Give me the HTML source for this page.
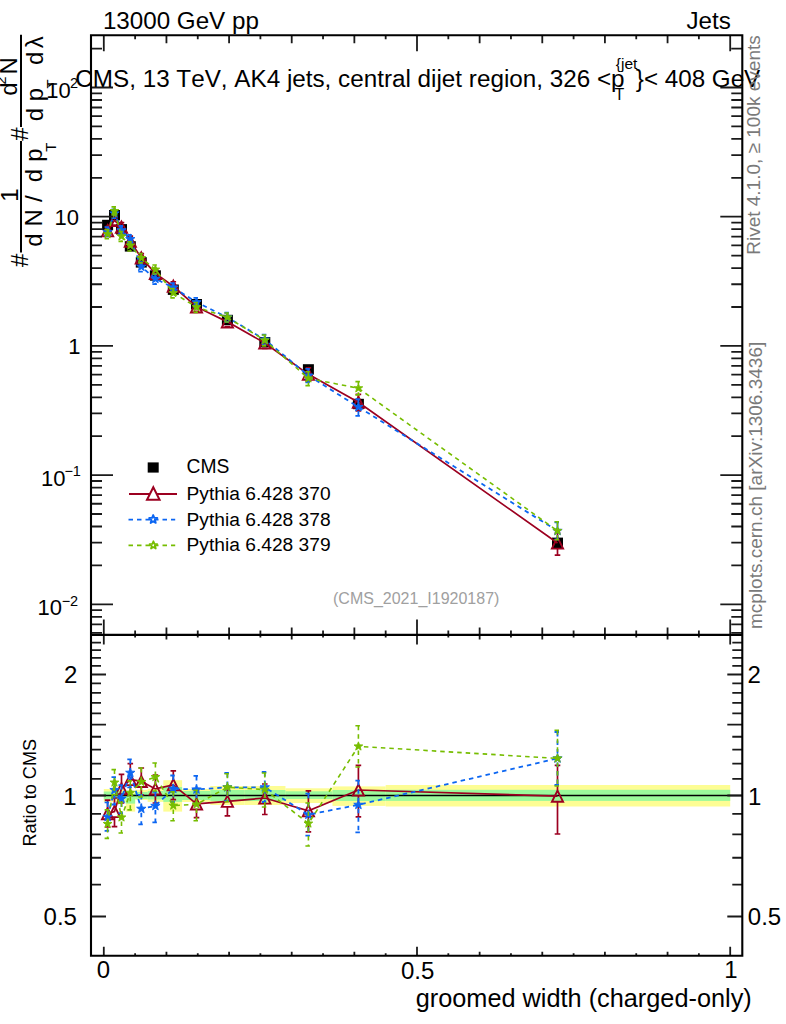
<!DOCTYPE html>
<html><head><meta charset="utf-8"><style>html,body{margin:0;padding:0;background:#fff;overflow:hidden}svg{display:block}text{font-kerning:none;font-feature-settings:"kern" 0}</style></head><body>
<svg width="786" height="1024" viewBox="0 0 786 1024" font-family="'Liberation Sans', sans-serif">
<rect width="786" height="1024" fill="#fff"/>
<defs><clipPath id="cm"><rect x="91.0" y="35.2" width="651.3" height="599.1999999999999"/></clipPath><clipPath id="cr"><rect x="91.0" y="634.4" width="651.3" height="321.4"/></clipPath></defs>
<g clip-path="url(#cr)">
<rect x="103.8" y="789" width="6.26" height="13" fill="#fdfd94"/>
<rect x="110.06" y="789" width="6.26" height="13" fill="#fdfd94"/>
<rect x="116.33" y="789" width="9.4" height="13" fill="#fdfd94"/>
<rect x="125.72" y="792" width="9.4" height="19.6" fill="#fdfd94"/>
<rect x="135.12" y="789.9" width="12.53" height="10.1" fill="#fdfd94"/>
<rect x="147.65" y="788.7" width="15.66" height="13.2" fill="#fdfd94"/>
<rect x="163.31" y="780.2" width="18.79" height="31.4" fill="#fdfd94"/>
<rect x="182.1" y="789" width="28.19" height="13" fill="#fdfd94"/>
<rect x="210.29" y="786" width="34.45" height="19" fill="#fdfd94"/>
<rect x="244.74" y="786" width="40.72" height="19" fill="#fdfd94"/>
<rect x="285.46" y="788.3" width="46.98" height="14.7" fill="#fdfd94"/>
<rect x="332.44" y="786.4" width="53.24" height="19.5" fill="#fdfd94"/>
<rect x="385.68" y="785" width="344.52" height="21.5" fill="#fdfd94"/>
<rect x="103.8" y="791.5" width="6.26" height="8" fill="#9bfa9b"/>
<rect x="110.06" y="791.5" width="6.26" height="8" fill="#9bfa9b"/>
<rect x="116.33" y="791.5" width="9.4" height="8" fill="#9bfa9b"/>
<rect x="125.72" y="793.9" width="9.4" height="9.7" fill="#9bfa9b"/>
<rect x="135.12" y="792" width="12.53" height="7" fill="#9bfa9b"/>
<rect x="147.65" y="791" width="15.66" height="8.5" fill="#9bfa9b"/>
<rect x="163.31" y="787" width="18.79" height="14.9" fill="#9bfa9b"/>
<rect x="182.1" y="791" width="28.19" height="9" fill="#9bfa9b"/>
<rect x="210.29" y="790" width="34.45" height="11" fill="#9bfa9b"/>
<rect x="244.74" y="790" width="40.72" height="11" fill="#9bfa9b"/>
<rect x="285.46" y="791.3" width="46.98" height="7.7" fill="#9bfa9b"/>
<rect x="332.44" y="790" width="53.24" height="11" fill="#9bfa9b"/>
<rect x="385.68" y="789.8" width="344.52" height="11.1" fill="#9bfa9b"/>
<line x1="91.0" y1="795.5" x2="742.3" y2="795.5" stroke="#000" stroke-width="1.6"/>
</g>
<g clip-path="url(#cr)">
<polyline points="107.6,813.6 114.5,811.5 121.5,788.7 130.3,779.5 141.3,781.4 155.4,788.9 173.3,784.8 196.5,803.9 227.4,801.3 264.8,798 308.4,810.8 358.4,790 557.5,796.2" fill="none" stroke="#9c0020" stroke-width="1.7"/>
<path d="M107.6 800.2V808M107.6 819.2V827M104.8 800.2H110.4M104.8 827H110.4" stroke="#9c0020" stroke-width="1.7" fill="none"/>
<path d="M114.5 798V805.9M114.5 817.1V826.6M111.7 798H117.3M111.7 826.6H117.3" stroke="#9c0020" stroke-width="1.7" fill="none"/>
<path d="M121.5 774.4V783.1M121.5 794.3V803M118.7 774.4H124.3M118.7 803H124.3" stroke="#9c0020" stroke-width="1.7" fill="none"/>
<path d="M130.3 763.7V773.9M130.3 785.1V795M127.5 763.7H133.1M127.5 795H133.1" stroke="#9c0020" stroke-width="1.7" fill="none"/>
<path d="M141.3 768V775.8M141.3 787V795M138.5 768H144.1M138.5 795H144.1" stroke="#9c0020" stroke-width="1.7" fill="none"/>
<path d="M155.4 775V783.3M155.4 794.5V803M152.6 775H158.2M152.6 803H158.2" stroke="#9c0020" stroke-width="1.7" fill="none"/>
<path d="M173.3 770.8V779.2M173.3 790.4V799.7M170.5 770.8H176.1M170.5 799.7H176.1" stroke="#9c0020" stroke-width="1.7" fill="none"/>
<path d="M196.5 790.3V798.3M196.5 809.5V817.7M193.7 790.3H199.3M193.7 817.7H199.3" stroke="#9c0020" stroke-width="1.7" fill="none"/>
<path d="M227.4 787.8V795.7M227.4 806.9V815.8M224.6 787.8H230.2M224.6 815.8H230.2" stroke="#9c0020" stroke-width="1.7" fill="none"/>
<path d="M264.8 784V792.4M264.8 803.6V814.5M262 784H267.6M262 814.5H267.6" stroke="#9c0020" stroke-width="1.7" fill="none"/>
<path d="M308.4 790.8V805.2M308.4 816.4V831.8M305.6 790.8H311.2M305.6 831.8H311.2" stroke="#9c0020" stroke-width="1.7" fill="none"/>
<path d="M358.4 765.3V784.4M358.4 795.6V816.8M355.6 765.3H361.2M355.6 816.8H361.2" stroke="#9c0020" stroke-width="1.7" fill="none"/>
<path d="M557.5 765.3V790.6M557.5 801.8V834M554.7 765.3H560.3M554.7 834H560.3" stroke="#9c0020" stroke-width="1.7" fill="none"/>
<polygon points="107.6,808 102,819.2 113.2,819.2" fill="none" stroke="#9c0020" stroke-width="1.9"/>
<polygon points="114.5,805.9 108.9,817.1 120.1,817.1" fill="none" stroke="#9c0020" stroke-width="1.9"/>
<polygon points="121.5,783.1 115.9,794.3 127.1,794.3" fill="none" stroke="#9c0020" stroke-width="1.9"/>
<polygon points="130.3,773.9 124.7,785.1 135.9,785.1" fill="none" stroke="#9c0020" stroke-width="1.9"/>
<polygon points="141.3,775.8 135.7,787 146.9,787" fill="none" stroke="#9c0020" stroke-width="1.9"/>
<polygon points="155.4,783.3 149.8,794.5 161,794.5" fill="none" stroke="#9c0020" stroke-width="1.9"/>
<polygon points="173.3,779.2 167.7,790.4 178.9,790.4" fill="none" stroke="#9c0020" stroke-width="1.9"/>
<polygon points="196.5,798.3 190.9,809.5 202.1,809.5" fill="none" stroke="#9c0020" stroke-width="1.9"/>
<polygon points="227.4,795.7 221.8,806.9 233,806.9" fill="none" stroke="#9c0020" stroke-width="1.9"/>
<polygon points="264.8,792.4 259.2,803.6 270.4,803.6" fill="none" stroke="#9c0020" stroke-width="1.9"/>
<polygon points="308.4,805.2 302.8,816.4 314,816.4" fill="none" stroke="#9c0020" stroke-width="1.9"/>
<polygon points="358.4,784.4 352.8,795.6 364,795.6" fill="none" stroke="#9c0020" stroke-width="1.9"/>
<polygon points="557.5,790.6 551.9,801.8 563.1,801.8" fill="none" stroke="#9c0020" stroke-width="1.9"/>
<polyline points="107.6,816.9 114.5,790 121.5,798.6 130.3,772.8 141.3,808.8 155.4,805.9 173.3,788.75 196.5,789.5 227.4,787.3 264.8,787.3 308.4,814.7 358.4,804.8 557.5,758.4" fill="none" stroke="#0c66f2" stroke-width="1.8" stroke-dasharray="4.5 4"/>
<path d="M107.6 802.4V812.9M107.6 820.9V830.9M104.6 802.4H110.6M104.6 830.9H110.6" stroke="#0c66f2" stroke-width="1.8" fill="none" stroke-dasharray="4.5 4"/>
<path d="M114.5 777.1V786M114.5 794V804.5M111.5 777.1H117.5M111.5 804.5H117.5" stroke="#0c66f2" stroke-width="1.8" fill="none" stroke-dasharray="4.5 4"/>
<path d="M121.5 785.2V794.6M121.5 802.6V813.1M118.5 785.2H124.5M118.5 813.1H124.5" stroke="#0c66f2" stroke-width="1.8" fill="none" stroke-dasharray="4.5 4"/>
<path d="M130.3 759.4V768.8M130.3 776.8V787.3M127.3 759.4H133.3M127.3 787.3H133.3" stroke="#0c66f2" stroke-width="1.8" fill="none" stroke-dasharray="4.5 4"/>
<path d="M141.3 795V804.8M141.3 812.8V824.4M138.3 795H144.3M138.3 824.4H144.3" stroke="#0c66f2" stroke-width="1.8" fill="none" stroke-dasharray="4.5 4"/>
<path d="M155.4 791.9V801.9M155.4 809.9V822.3M152.4 791.9H158.4M152.4 822.3H158.4" stroke="#0c66f2" stroke-width="1.8" fill="none" stroke-dasharray="4.5 4"/>
<path d="M173.3 775.5V784.75M173.3 792.75V802M170.3 775.5H176.3M170.3 802H176.3" stroke="#0c66f2" stroke-width="1.8" fill="none" stroke-dasharray="4.5 4"/>
<path d="M196.5 775.9V785.5M196.5 793.5V803.6M193.5 775.9H199.5M193.5 803.6H199.5" stroke="#0c66f2" stroke-width="1.8" fill="none" stroke-dasharray="4.5 4"/>
<path d="M227.4 773V783.3M227.4 791.3V801M224.4 773H230.4M224.4 801H230.4" stroke="#0c66f2" stroke-width="1.8" fill="none" stroke-dasharray="4.5 4"/>
<path d="M264.8 772V783.3M264.8 791.3V802M261.8 772H267.8M261.8 802H267.8" stroke="#0c66f2" stroke-width="1.8" fill="none" stroke-dasharray="4.5 4"/>
<path d="M308.4 793.7V810.7M308.4 818.7V835.7M305.4 793.7H311.4M305.4 835.7H311.4" stroke="#0c66f2" stroke-width="1.8" fill="none" stroke-dasharray="4.5 4"/>
<path d="M358.4 780.7V800.8M358.4 808.8V832.3M355.4 780.7H361.4M355.4 832.3H361.4" stroke="#0c66f2" stroke-width="1.8" fill="none" stroke-dasharray="4.5 4"/>
<path d="M557.5 732V754.4M557.5 762.4V785M554.5 732H560.5M554.5 785H560.5" stroke="#0c66f2" stroke-width="1.8" fill="none" stroke-dasharray="4.5 4"/>
<polygon points="107.6,812 108.81,815.24 112.26,815.39 109.56,817.54 110.48,820.86 107.6,818.96 104.72,820.86 105.64,817.54 102.94,815.39 106.39,815.24" fill="#0c66f2" stroke="#0c66f2" stroke-width="0.9" stroke-linejoin="round"/>
<polygon points="114.5,785.1 115.71,788.34 119.16,788.49 116.46,790.64 117.38,793.96 114.5,792.06 111.62,793.96 112.54,790.64 109.84,788.49 113.29,788.34" fill="#0c66f2" stroke="#0c66f2" stroke-width="0.9" stroke-linejoin="round"/>
<polygon points="121.5,793.7 122.71,796.94 126.16,797.09 123.46,799.24 124.38,802.56 121.5,800.66 118.62,802.56 119.54,799.24 116.84,797.09 120.29,796.94" fill="#0c66f2" stroke="#0c66f2" stroke-width="0.9" stroke-linejoin="round"/>
<polygon points="130.3,767.9 131.51,771.14 134.96,771.29 132.26,773.44 133.18,776.76 130.3,774.86 127.42,776.76 128.34,773.44 125.64,771.29 129.09,771.14" fill="#0c66f2" stroke="#0c66f2" stroke-width="0.9" stroke-linejoin="round"/>
<polygon points="141.3,803.9 142.51,807.14 145.96,807.29 143.26,809.44 144.18,812.76 141.3,810.86 138.42,812.76 139.34,809.44 136.64,807.29 140.09,807.14" fill="#0c66f2" stroke="#0c66f2" stroke-width="0.9" stroke-linejoin="round"/>
<polygon points="155.4,801 156.61,804.24 160.06,804.39 157.36,806.54 158.28,809.86 155.4,807.96 152.52,809.86 153.44,806.54 150.74,804.39 154.19,804.24" fill="#0c66f2" stroke="#0c66f2" stroke-width="0.9" stroke-linejoin="round"/>
<polygon points="173.3,783.85 174.51,787.09 177.96,787.24 175.26,789.39 176.18,792.71 173.3,790.81 170.42,792.71 171.34,789.39 168.64,787.24 172.09,787.09" fill="#0c66f2" stroke="#0c66f2" stroke-width="0.9" stroke-linejoin="round"/>
<polygon points="196.5,784.6 197.71,787.84 201.16,787.99 198.46,790.14 199.38,793.46 196.5,791.56 193.62,793.46 194.54,790.14 191.84,787.99 195.29,787.84" fill="#0c66f2" stroke="#0c66f2" stroke-width="0.9" stroke-linejoin="round"/>
<polygon points="227.4,782.4 228.61,785.64 232.06,785.79 229.36,787.94 230.28,791.26 227.4,789.36 224.52,791.26 225.44,787.94 222.74,785.79 226.19,785.64" fill="#0c66f2" stroke="#0c66f2" stroke-width="0.9" stroke-linejoin="round"/>
<polygon points="264.8,782.4 266.01,785.64 269.46,785.79 266.76,787.94 267.68,791.26 264.8,789.36 261.92,791.26 262.84,787.94 260.14,785.79 263.59,785.64" fill="#0c66f2" stroke="#0c66f2" stroke-width="0.9" stroke-linejoin="round"/>
<polygon points="308.4,809.8 309.61,813.04 313.06,813.19 310.36,815.34 311.28,818.66 308.4,816.76 305.52,818.66 306.44,815.34 303.74,813.19 307.19,813.04" fill="#0c66f2" stroke="#0c66f2" stroke-width="0.9" stroke-linejoin="round"/>
<polygon points="358.4,799.9 359.61,803.14 363.06,803.29 360.36,805.44 361.28,808.76 358.4,806.86 355.52,808.76 356.44,805.44 353.74,803.29 357.19,803.14" fill="#0c66f2" stroke="#0c66f2" stroke-width="0.9" stroke-linejoin="round"/>
<polygon points="557.5,753.5 558.71,756.74 562.16,756.89 559.46,759.04 560.38,762.36 557.5,760.46 554.62,762.36 555.54,759.04 552.84,756.89 556.29,756.74" fill="#0c66f2" stroke="#0c66f2" stroke-width="0.9" stroke-linejoin="round"/>
<polyline points="107.6,823.9 114.5,782.5 121.5,817.4 130.3,792.7 141.3,781.9 155.4,777 173.3,805.6 196.5,804.4 227.4,787.3 264.8,789.6 308.4,823.5 358.4,746.4 557.5,758.4" fill="none" stroke="#76bd00" stroke-width="1.6" stroke-dasharray="4.5 4"/>
<path d="M107.6 809.9V819.9M107.6 827.9V838.4M104.6 809.9H110.6M104.6 838.4H110.6" stroke="#76bd00" stroke-width="1.6" fill="none" stroke-dasharray="4.5 4"/>
<path d="M114.5 769.6V778.5M114.5 786.5V794.8M111.5 769.6H117.5M111.5 794.8H117.5" stroke="#76bd00" stroke-width="1.6" fill="none" stroke-dasharray="4.5 4"/>
<path d="M121.5 802.4V813.4M121.5 821.4V833M118.5 802.4H124.5M118.5 833H124.5" stroke="#76bd00" stroke-width="1.6" fill="none" stroke-dasharray="4.5 4"/>
<path d="M130.3 780.9V788.7M130.3 796.7V809.9M127.3 780.9H133.3M127.3 809.9H133.3" stroke="#76bd00" stroke-width="1.6" fill="none" stroke-dasharray="4.5 4"/>
<path d="M141.3 768V777.9M141.3 785.9V797M138.3 768H144.3M138.3 797H144.3" stroke="#76bd00" stroke-width="1.6" fill="none" stroke-dasharray="4.5 4"/>
<path d="M155.4 763V773M155.4 781V791M152.4 763H158.4M152.4 791H158.4" stroke="#76bd00" stroke-width="1.6" fill="none" stroke-dasharray="4.5 4"/>
<path d="M173.3 791.9V801.6M173.3 809.6V820.8M170.3 791.9H176.3M170.3 820.8H176.3" stroke="#76bd00" stroke-width="1.6" fill="none" stroke-dasharray="4.5 4"/>
<path d="M196.5 790.3V800.4M196.5 808.4V820.8M193.5 790.3H199.5M193.5 820.8H199.5" stroke="#76bd00" stroke-width="1.6" fill="none" stroke-dasharray="4.5 4"/>
<path d="M227.4 773.8V783.3M227.4 791.3V801.8M224.4 773.8H230.4M224.4 801.8H230.4" stroke="#76bd00" stroke-width="1.6" fill="none" stroke-dasharray="4.5 4"/>
<path d="M264.8 773V785.6M264.8 793.6V807M261.8 773H267.8M261.8 807H267.8" stroke="#76bd00" stroke-width="1.6" fill="none" stroke-dasharray="4.5 4"/>
<path d="M308.4 803V819.5M308.4 827.5V846M305.4 803H311.4M305.4 846H311.4" stroke="#76bd00" stroke-width="1.6" fill="none" stroke-dasharray="4.5 4"/>
<path d="M358.4 725.8V742.4M358.4 750.4V767M355.4 725.8H361.4M355.4 767H361.4" stroke="#76bd00" stroke-width="1.6" fill="none" stroke-dasharray="4.5 4"/>
<path d="M557.5 730.2V754.4M557.5 762.4V786M554.5 730.2H560.5M554.5 786H560.5" stroke="#76bd00" stroke-width="1.6" fill="none" stroke-dasharray="4.5 4"/>
<polygon points="107.6,819.3 108.74,822.34 111.97,822.48 109.44,824.5 110.3,827.62 107.6,825.83 104.9,827.62 105.76,824.5 103.23,822.48 106.46,822.34" fill="#76bd00" stroke="#76bd00" stroke-width="0.9" stroke-linejoin="round"/>
<polygon points="114.5,777.9 115.64,780.94 118.87,781.08 116.34,783.1 117.2,786.22 114.5,784.43 111.8,786.22 112.66,783.1 110.13,781.08 113.36,780.94" fill="#76bd00" stroke="#76bd00" stroke-width="0.9" stroke-linejoin="round"/>
<polygon points="121.5,812.8 122.64,815.84 125.87,815.98 123.34,818 124.2,821.12 121.5,819.33 118.8,821.12 119.66,818 117.13,815.98 120.36,815.84" fill="#76bd00" stroke="#76bd00" stroke-width="0.9" stroke-linejoin="round"/>
<polygon points="130.3,788.1 131.44,791.14 134.67,791.28 132.14,793.3 133,796.42 130.3,794.63 127.6,796.42 128.46,793.3 125.93,791.28 129.16,791.14" fill="#76bd00" stroke="#76bd00" stroke-width="0.9" stroke-linejoin="round"/>
<polygon points="141.3,777.3 142.44,780.34 145.67,780.48 143.14,782.5 144,785.62 141.3,783.83 138.6,785.62 139.46,782.5 136.93,780.48 140.16,780.34" fill="#76bd00" stroke="#76bd00" stroke-width="0.9" stroke-linejoin="round"/>
<polygon points="155.4,772.4 156.54,775.44 159.77,775.58 157.24,777.6 158.1,780.72 155.4,778.93 152.7,780.72 153.56,777.6 151.03,775.58 154.26,775.44" fill="#76bd00" stroke="#76bd00" stroke-width="0.9" stroke-linejoin="round"/>
<polygon points="173.3,801 174.44,804.04 177.67,804.18 175.14,806.2 176,809.32 173.3,807.53 170.6,809.32 171.46,806.2 168.93,804.18 172.16,804.04" fill="#76bd00" stroke="#76bd00" stroke-width="0.9" stroke-linejoin="round"/>
<polygon points="196.5,799.8 197.64,802.84 200.87,802.98 198.34,805 199.2,808.12 196.5,806.33 193.8,808.12 194.66,805 192.13,802.98 195.36,802.84" fill="#76bd00" stroke="#76bd00" stroke-width="0.9" stroke-linejoin="round"/>
<polygon points="227.4,782.7 228.54,785.74 231.77,785.88 229.24,787.9 230.1,791.02 227.4,789.23 224.7,791.02 225.56,787.9 223.03,785.88 226.26,785.74" fill="#76bd00" stroke="#76bd00" stroke-width="0.9" stroke-linejoin="round"/>
<polygon points="264.8,785 265.94,788.04 269.17,788.18 266.64,790.2 267.5,793.32 264.8,791.53 262.1,793.32 262.96,790.2 260.43,788.18 263.66,788.04" fill="#76bd00" stroke="#76bd00" stroke-width="0.9" stroke-linejoin="round"/>
<polygon points="308.4,818.9 309.54,821.94 312.77,822.08 310.24,824.1 311.1,827.22 308.4,825.43 305.7,827.22 306.56,824.1 304.03,822.08 307.26,821.94" fill="#76bd00" stroke="#76bd00" stroke-width="0.9" stroke-linejoin="round"/>
<polygon points="358.4,741.8 359.54,744.84 362.77,744.98 360.24,747 361.1,750.12 358.4,748.33 355.7,750.12 356.56,747 354.03,744.98 357.26,744.84" fill="#76bd00" stroke="#76bd00" stroke-width="0.9" stroke-linejoin="round"/>
<polygon points="557.5,753.8 558.64,756.84 561.87,756.98 559.34,759 560.2,762.12 557.5,760.33 554.8,762.12 555.66,759 553.13,756.98 556.36,756.84" fill="#76bd00" stroke="#76bd00" stroke-width="0.9" stroke-linejoin="round"/>
</g>
<g clip-path="url(#cm)">
<rect x="102.1" y="219.8" width="11" height="10.4" fill="#000"/>
<rect x="109" y="210" width="11" height="10.4" fill="#000"/>
<rect x="116" y="224.1" width="11" height="10.4" fill="#000"/>
<rect x="124.8" y="241.2" width="11" height="10.4" fill="#000"/>
<rect x="135.8" y="257.2" width="11" height="10.4" fill="#000"/>
<rect x="149.9" y="270.3" width="11" height="10.4" fill="#000"/>
<rect x="167.8" y="284.5" width="11" height="10.4" fill="#000"/>
<rect x="191" y="299" width="11" height="10.4" fill="#000"/>
<rect x="221.9" y="314.8" width="11" height="10.4" fill="#000"/>
<rect x="259.3" y="337" width="11" height="10.4" fill="#000"/>
<rect x="302.9" y="364.2" width="11" height="10.4" fill="#000"/>
<rect x="352.9" y="398.8" width="11" height="10.4" fill="#000"/>
<rect x="552" y="537.6" width="11" height="10.4" fill="#000"/>
<polyline points="107.6,230.82 114.5,220.34 121.5,227.11 130.3,241.26 141.3,257.87 155.4,273.38 173.3,286.26 196.5,306.9 227.4,321.86 264.8,343 308.4,374.32 358.4,402.23 557.5,543.02" fill="none" stroke="#9c0020" stroke-width="1.7"/>
<path d="M104.8 226.51H110.4M104.8 235.12H110.4" stroke="#9c0020" stroke-width="1.7" fill="none"/>
<path d="M111.7 216H117.3M111.7 225.2H117.3" stroke="#9c0020" stroke-width="1.7" fill="none"/>
<path d="M118.7 222.52H124.3M118.7 231.71H124.3" stroke="#9c0020" stroke-width="1.7" fill="none"/>
<path d="M127.5 236.18H133.1M127.5 246.24H133.1" stroke="#9c0020" stroke-width="1.7" fill="none"/>
<path d="M138.5 253.56H144.1M138.5 262.24H144.1" stroke="#9c0020" stroke-width="1.7" fill="none"/>
<path d="M152.6 268.91H158.2M152.6 277.91H158.2" stroke="#9c0020" stroke-width="1.7" fill="none"/>
<path d="M170.5 281.76H176.1M170.5 291.05H176.1" stroke="#9c0020" stroke-width="1.7" fill="none"/>
<path d="M193.7 302.53H199.3M193.7 311.33H199.3" stroke="#9c0020" stroke-width="1.7" fill="none"/>
<path d="M224.6 317.53H230.2M224.6 326.52H230.2" stroke="#9c0020" stroke-width="1.7" fill="none"/>
<path d="M262 338.5H267.6M262 348.31H267.6" stroke="#9c0020" stroke-width="1.7" fill="none"/>
<path d="M308.4 367.89V368.72M308.4 379.92V381.07M305.6 367.89H311.2M305.6 381.07H311.2" stroke="#9c0020" stroke-width="1.7" fill="none"/>
<path d="M358.4 394.29V396.63M358.4 407.83V410.85M355.6 394.29H361.2M355.6 410.85H361.2" stroke="#9c0020" stroke-width="1.7" fill="none"/>
<path d="M557.5 533.09V537.42M557.5 548.62V555.17M554.7 533.09H560.3M554.7 555.17H560.3" stroke="#9c0020" stroke-width="1.7" fill="none"/>
<polygon points="107.6,225.22 102,236.42 113.2,236.42" fill="none" stroke="#9c0020" stroke-width="1.9"/>
<polygon points="114.5,214.74 108.9,225.94 120.1,225.94" fill="none" stroke="#9c0020" stroke-width="1.9"/>
<polygon points="121.5,221.51 115.9,232.71 127.1,232.71" fill="none" stroke="#9c0020" stroke-width="1.9"/>
<polygon points="130.3,235.66 124.7,246.86 135.9,246.86" fill="none" stroke="#9c0020" stroke-width="1.9"/>
<polygon points="141.3,252.27 135.7,263.47 146.9,263.47" fill="none" stroke="#9c0020" stroke-width="1.9"/>
<polygon points="155.4,267.78 149.8,278.98 161,278.98" fill="none" stroke="#9c0020" stroke-width="1.9"/>
<polygon points="173.3,280.66 167.7,291.86 178.9,291.86" fill="none" stroke="#9c0020" stroke-width="1.9"/>
<polygon points="196.5,301.3 190.9,312.5 202.1,312.5" fill="none" stroke="#9c0020" stroke-width="1.9"/>
<polygon points="227.4,316.26 221.8,327.46 233,327.46" fill="none" stroke="#9c0020" stroke-width="1.9"/>
<polygon points="264.8,337.4 259.2,348.6 270.4,348.6" fill="none" stroke="#9c0020" stroke-width="1.9"/>
<polygon points="308.4,368.72 302.8,379.92 314,379.92" fill="none" stroke="#9c0020" stroke-width="1.9"/>
<polygon points="358.4,396.63 352.8,407.83 364,407.83" fill="none" stroke="#9c0020" stroke-width="1.9"/>
<polygon points="557.5,537.42 551.9,548.62 563.1,548.62" fill="none" stroke="#9c0020" stroke-width="1.9"/>
<polyline points="107.6,231.88 114.5,213.43 121.5,230.3 130.3,239.1 141.3,266.67 155.4,278.84 173.3,287.53 196.5,302.27 227.4,317.36 264.8,339.56 308.4,375.57 358.4,406.99 557.5,530.88" fill="none" stroke="#0c66f2" stroke-width="1.8" stroke-dasharray="4.5 4"/>
<path d="M107.6 227.22V227.88M107.6 235.88V236.38M104.6 227.22H110.6M104.6 236.38H110.6" stroke="#0c66f2" stroke-width="1.8" fill="none" stroke-dasharray="4.5 4"/>
<path d="M114.5 209.29V209.43M114.5 217.43V218.09M111.5 209.29H117.5M111.5 218.09H117.5" stroke="#0c66f2" stroke-width="1.8" fill="none" stroke-dasharray="4.5 4"/>
<path d="M121.5 225.99V226.3M121.5 234.3V234.96M118.5 225.99H124.5M118.5 234.96H124.5" stroke="#0c66f2" stroke-width="1.8" fill="none" stroke-dasharray="4.5 4"/>
<path d="M130.3 234.8V235.1M130.3 243.1V243.76M127.3 234.8H133.3M127.3 243.76H133.3" stroke="#0c66f2" stroke-width="1.8" fill="none" stroke-dasharray="4.5 4"/>
<path d="M141.3 262.24V262.67M141.3 270.67V271.69M138.3 262.24H144.3M138.3 271.69H144.3" stroke="#0c66f2" stroke-width="1.8" fill="none" stroke-dasharray="4.5 4"/>
<path d="M155.4 274.34V274.84M155.4 282.84V284.11M152.4 274.34H158.4M152.4 284.11H158.4" stroke="#0c66f2" stroke-width="1.8" fill="none" stroke-dasharray="4.5 4"/>
<path d="M173.3 283.27V283.53M173.3 291.53V291.79M170.3 283.27H176.3M170.3 291.79H176.3" stroke="#0c66f2" stroke-width="1.8" fill="none" stroke-dasharray="4.5 4"/>
<path d="M196.5 297.9V298.27M196.5 306.27V306.8M193.5 297.9H199.5M193.5 306.8H199.5" stroke="#0c66f2" stroke-width="1.8" fill="none" stroke-dasharray="4.5 4"/>
<path d="M227.4 312.77V313.36M227.4 321.36V321.77M224.4 312.77H230.4M224.4 321.77H230.4" stroke="#0c66f2" stroke-width="1.8" fill="none" stroke-dasharray="4.5 4"/>
<path d="M264.8 334.65V335.56M264.8 343.56V344.29M261.8 334.65H267.8M261.8 344.29H267.8" stroke="#0c66f2" stroke-width="1.8" fill="none" stroke-dasharray="4.5 4"/>
<path d="M308.4 368.82V371.57M308.4 379.57V382.32M305.4 368.82H311.4M305.4 382.32H311.4" stroke="#0c66f2" stroke-width="1.8" fill="none" stroke-dasharray="4.5 4"/>
<path d="M358.4 399.24V402.99M358.4 410.99V415.83M355.4 399.24H361.4M355.4 415.83H361.4" stroke="#0c66f2" stroke-width="1.8" fill="none" stroke-dasharray="4.5 4"/>
<path d="M557.5 522.39V526.88M557.5 534.88V539.43M554.5 522.39H560.5M554.5 539.43H560.5" stroke="#0c66f2" stroke-width="1.8" fill="none" stroke-dasharray="4.5 4"/>
<polygon points="107.6,226.98 108.81,230.21 112.26,230.36 109.56,232.51 110.48,235.84 107.6,233.94 104.72,235.84 105.64,232.51 102.94,230.36 106.39,230.21" fill="#0c66f2" stroke="#0c66f2" stroke-width="0.9" stroke-linejoin="round"/>
<polygon points="114.5,208.53 115.71,211.77 119.16,211.92 116.46,214.07 117.38,217.4 114.5,215.49 111.62,217.4 112.54,214.07 109.84,211.92 113.29,211.77" fill="#0c66f2" stroke="#0c66f2" stroke-width="0.9" stroke-linejoin="round"/>
<polygon points="121.5,225.4 122.71,228.63 126.16,228.78 123.46,230.93 124.38,234.26 121.5,232.35 118.62,234.26 119.54,230.93 116.84,228.78 120.29,228.63" fill="#0c66f2" stroke="#0c66f2" stroke-width="0.9" stroke-linejoin="round"/>
<polygon points="130.3,234.2 131.51,237.44 134.96,237.59 132.26,239.74 133.18,243.07 130.3,241.16 127.42,243.07 128.34,239.74 125.64,237.59 129.09,237.44" fill="#0c66f2" stroke="#0c66f2" stroke-width="0.9" stroke-linejoin="round"/>
<polygon points="141.3,261.77 142.51,265.01 145.96,265.16 143.26,267.31 144.18,270.64 141.3,268.73 138.42,270.64 139.34,267.31 136.64,265.16 140.09,265.01" fill="#0c66f2" stroke="#0c66f2" stroke-width="0.9" stroke-linejoin="round"/>
<polygon points="155.4,273.94 156.61,277.18 160.06,277.33 157.36,279.48 158.28,282.81 155.4,280.9 152.52,282.81 153.44,279.48 150.74,277.33 154.19,277.18" fill="#0c66f2" stroke="#0c66f2" stroke-width="0.9" stroke-linejoin="round"/>
<polygon points="173.3,282.63 174.51,285.87 177.96,286.02 175.26,288.17 176.18,291.49 173.3,289.59 170.42,291.49 171.34,288.17 168.64,286.02 172.09,285.87" fill="#0c66f2" stroke="#0c66f2" stroke-width="0.9" stroke-linejoin="round"/>
<polygon points="196.5,297.37 197.71,300.61 201.16,300.76 198.46,302.91 199.38,306.24 196.5,304.33 193.62,306.24 194.54,302.91 191.84,300.76 195.29,300.61" fill="#0c66f2" stroke="#0c66f2" stroke-width="0.9" stroke-linejoin="round"/>
<polygon points="227.4,312.46 228.61,315.7 232.06,315.85 229.36,318 230.28,321.33 227.4,319.42 224.52,321.33 225.44,318 222.74,315.85 226.19,315.7" fill="#0c66f2" stroke="#0c66f2" stroke-width="0.9" stroke-linejoin="round"/>
<polygon points="264.8,334.66 266.01,337.9 269.46,338.05 266.76,340.2 267.68,343.53 264.8,341.62 261.92,343.53 262.84,340.2 260.14,338.05 263.59,337.9" fill="#0c66f2" stroke="#0c66f2" stroke-width="0.9" stroke-linejoin="round"/>
<polygon points="308.4,370.67 309.61,373.91 313.06,374.06 310.36,376.21 311.28,379.53 308.4,377.63 305.52,379.53 306.44,376.21 303.74,374.06 307.19,373.91" fill="#0c66f2" stroke="#0c66f2" stroke-width="0.9" stroke-linejoin="round"/>
<polygon points="358.4,402.09 359.61,405.32 363.06,405.47 360.36,407.62 361.28,410.95 358.4,409.05 355.52,410.95 356.44,407.62 353.74,405.47 357.19,405.32" fill="#0c66f2" stroke="#0c66f2" stroke-width="0.9" stroke-linejoin="round"/>
<polygon points="557.5,525.98 558.71,529.21 562.16,529.36 559.46,531.51 560.38,534.84 557.5,532.93 554.62,534.84 555.54,531.51 552.84,529.36 556.29,529.21" fill="#0c66f2" stroke="#0c66f2" stroke-width="0.9" stroke-linejoin="round"/>
<polyline points="107.6,234.13 114.5,211.02 121.5,236.34 130.3,245.5 141.3,258.03 155.4,269.55 173.3,292.95 196.5,307.06 227.4,317.36 264.8,340.3 308.4,378.4 358.4,388.22 557.5,530.88" fill="none" stroke="#76bd00" stroke-width="1.6" stroke-dasharray="4.5 4"/>
<path d="M107.6 229.63V230.13M107.6 238.13V238.79M104.6 229.63H110.6M104.6 238.79H110.6" stroke="#76bd00" stroke-width="1.6" fill="none" stroke-dasharray="4.5 4"/>
<path d="M114.5 206.88V207.02M111.5 206.88H117.5M111.5 214.98H117.5" stroke="#76bd00" stroke-width="1.6" fill="none" stroke-dasharray="4.5 4"/>
<path d="M121.5 231.52V232.34M121.5 240.34V241.35M118.5 231.52H124.5M118.5 241.35H124.5" stroke="#76bd00" stroke-width="1.6" fill="none" stroke-dasharray="4.5 4"/>
<path d="M130.3 249.5V251.03M127.3 241.71H133.3M127.3 251.03H133.3" stroke="#76bd00" stroke-width="1.6" fill="none" stroke-dasharray="4.5 4"/>
<path d="M141.3 253.56V254.03M141.3 262.03V262.88M138.3 253.56H144.3M138.3 262.88H144.3" stroke="#76bd00" stroke-width="1.6" fill="none" stroke-dasharray="4.5 4"/>
<path d="M155.4 265.05V265.55M155.4 273.55V274.05M152.4 265.05H158.4M152.4 274.05H158.4" stroke="#76bd00" stroke-width="1.6" fill="none" stroke-dasharray="4.5 4"/>
<path d="M173.3 288.54V288.95M173.3 296.95V297.83M170.3 288.54H176.3M170.3 297.83H176.3" stroke="#76bd00" stroke-width="1.6" fill="none" stroke-dasharray="4.5 4"/>
<path d="M196.5 302.53V303.06M196.5 311.06V312.33M193.5 302.53H199.5M193.5 312.33H199.5" stroke="#76bd00" stroke-width="1.6" fill="none" stroke-dasharray="4.5 4"/>
<path d="M227.4 313.03V313.36M227.4 321.36V322.02M224.4 313.03H230.4M224.4 322.02H230.4" stroke="#76bd00" stroke-width="1.6" fill="none" stroke-dasharray="4.5 4"/>
<path d="M264.8 334.97V336.3M264.8 344.3V345.9M261.8 334.97H267.8M261.8 345.9H267.8" stroke="#76bd00" stroke-width="1.6" fill="none" stroke-dasharray="4.5 4"/>
<path d="M308.4 371.81V374.4M308.4 382.4V385.63M305.4 371.81H311.4M305.4 385.63H311.4" stroke="#76bd00" stroke-width="1.6" fill="none" stroke-dasharray="4.5 4"/>
<path d="M358.4 381.6V384.22M358.4 392.22V394.84M355.4 381.6H361.4M355.4 394.84H361.4" stroke="#76bd00" stroke-width="1.6" fill="none" stroke-dasharray="4.5 4"/>
<path d="M557.5 521.81V526.88M557.5 534.88V539.75M554.5 521.81H560.5M554.5 539.75H560.5" stroke="#76bd00" stroke-width="1.6" fill="none" stroke-dasharray="4.5 4"/>
<polygon points="107.6,229.53 108.74,232.56 111.97,232.71 109.44,234.72 110.3,237.85 107.6,236.06 104.9,237.85 105.76,234.72 103.23,232.71 106.46,232.56" fill="#76bd00" stroke="#76bd00" stroke-width="0.9" stroke-linejoin="round"/>
<polygon points="114.5,206.42 115.64,209.46 118.87,209.6 116.34,211.62 117.2,214.74 114.5,212.95 111.8,214.74 112.66,211.62 110.13,209.6 113.36,209.46" fill="#76bd00" stroke="#76bd00" stroke-width="0.9" stroke-linejoin="round"/>
<polygon points="121.5,231.74 122.64,234.78 125.87,234.92 123.34,236.94 124.2,240.06 121.5,238.27 118.8,240.06 119.66,236.94 117.13,234.92 120.36,234.78" fill="#76bd00" stroke="#76bd00" stroke-width="0.9" stroke-linejoin="round"/>
<polygon points="130.3,240.9 131.44,243.94 134.67,244.08 132.14,246.1 133,249.22 130.3,247.43 127.6,249.22 128.46,246.1 125.93,244.08 129.16,243.94" fill="#76bd00" stroke="#76bd00" stroke-width="0.9" stroke-linejoin="round"/>
<polygon points="141.3,253.43 142.44,256.47 145.67,256.61 143.14,258.63 144,261.75 141.3,259.96 138.6,261.75 139.46,258.63 136.93,256.61 140.16,256.47" fill="#76bd00" stroke="#76bd00" stroke-width="0.9" stroke-linejoin="round"/>
<polygon points="155.4,264.95 156.54,267.99 159.77,268.13 157.24,270.15 158.1,273.28 155.4,271.49 152.7,273.28 153.56,270.15 151.03,268.13 154.26,267.99" fill="#76bd00" stroke="#76bd00" stroke-width="0.9" stroke-linejoin="round"/>
<polygon points="173.3,288.35 174.44,291.38 177.67,291.52 175.14,293.54 176,296.67 173.3,294.88 170.6,296.67 171.46,293.54 168.93,291.52 172.16,291.38" fill="#76bd00" stroke="#76bd00" stroke-width="0.9" stroke-linejoin="round"/>
<polygon points="196.5,302.46 197.64,305.5 200.87,305.64 198.34,307.66 199.2,310.78 196.5,308.99 193.8,310.78 194.66,307.66 192.13,305.64 195.36,305.5" fill="#76bd00" stroke="#76bd00" stroke-width="0.9" stroke-linejoin="round"/>
<polygon points="227.4,312.76 228.54,315.8 231.77,315.94 229.24,317.96 230.1,321.09 227.4,319.3 224.7,321.09 225.56,317.96 223.03,315.94 226.26,315.8" fill="#76bd00" stroke="#76bd00" stroke-width="0.9" stroke-linejoin="round"/>
<polygon points="264.8,335.7 265.94,338.74 269.17,338.88 266.64,340.9 267.5,344.03 264.8,342.24 262.1,344.03 262.96,340.9 260.43,338.88 263.66,338.74" fill="#76bd00" stroke="#76bd00" stroke-width="0.9" stroke-linejoin="round"/>
<polygon points="308.4,373.8 309.54,376.84 312.77,376.98 310.24,379 311.1,382.12 308.4,380.33 305.7,382.12 306.56,379 304.03,376.98 307.26,376.84" fill="#76bd00" stroke="#76bd00" stroke-width="0.9" stroke-linejoin="round"/>
<polygon points="358.4,383.62 359.54,386.66 362.77,386.8 360.24,388.82 361.1,391.94 358.4,390.15 355.7,391.94 356.56,388.82 354.03,386.8 357.26,386.66" fill="#76bd00" stroke="#76bd00" stroke-width="0.9" stroke-linejoin="round"/>
<polygon points="557.5,526.28 558.64,529.31 561.87,529.45 559.34,531.47 560.2,534.6 557.5,532.81 554.8,534.6 555.66,531.47 553.13,529.45 556.36,529.31" fill="#76bd00" stroke="#76bd00" stroke-width="0.9" stroke-linejoin="round"/>
</g>
<path d="M91 632.96H102M742.3 632.96H731.3M91 624.31H102M742.3 624.31H731.3M91 616.82H102M742.3 616.82H731.3M91 610.21H102M742.3 610.21H731.3M91 604.3H113M742.3 604.3H720.3M91 565.41H102M742.3 565.41H731.3M91 542.66H102M742.3 542.66H731.3M91 526.51H102M742.3 526.51H731.3M91 513.99H102M742.3 513.99H731.3M91 503.76H102M742.3 503.76H731.3M91 495.11H102M742.3 495.11H731.3M91 487.62H102M742.3 487.62H731.3M91 481.01H102M742.3 481.01H731.3M91 475.1H113M742.3 475.1H720.3M91 436.21H102M742.3 436.21H731.3M91 413.46H102M742.3 413.46H731.3M91 397.31H102M742.3 397.31H731.3M91 384.79H102M742.3 384.79H731.3M91 374.56H102M742.3 374.56H731.3M91 365.91H102M742.3 365.91H731.3M91 358.42H102M742.3 358.42H731.3M91 351.81H102M742.3 351.81H731.3M91 345.9H113M742.3 345.9H720.3M91 307.01H102M742.3 307.01H731.3M91 284.26H102M742.3 284.26H731.3M91 268.11H102M742.3 268.11H731.3M91 255.59H102M742.3 255.59H731.3M91 245.36H102M742.3 245.36H731.3M91 236.71H102M742.3 236.71H731.3M91 229.22H102M742.3 229.22H731.3M91 222.61H102M742.3 222.61H731.3M91 216.7H113M742.3 216.7H720.3M91 177.81H102M742.3 177.81H731.3M91 155.06H102M742.3 155.06H731.3M91 138.91H102M742.3 138.91H731.3M91 126.39H102M742.3 126.39H731.3M91 116.16H102M742.3 116.16H731.3M91 107.51H102M742.3 107.51H731.3M91 100.02H102M742.3 100.02H731.3M91 93.41H102M742.3 93.41H731.3M91 87.5H113M742.3 87.5H720.3M91 48.61H102M742.3 48.61H731.3M103.8 35.2V51.2M103.8 634.4V619.4M103.8 634.4V644.4M103.8 955.8V946.8M135.12 35.2V39.2M135.12 634.4V630.4M135.12 634.4V637.4M135.12 955.8V953.3M166.44 35.2V43.2M166.44 634.4V627.4M166.44 634.4V639.4M166.44 955.8V951.8M197.76 35.2V39.2M197.76 634.4V630.4M197.76 634.4V637.4M197.76 955.8V953.3M229.08 35.2V43.2M229.08 634.4V627.4M229.08 634.4V639.4M229.08 955.8V951.8M260.4 35.2V39.2M260.4 634.4V630.4M260.4 634.4V637.4M260.4 955.8V953.3M291.72 35.2V43.2M291.72 634.4V627.4M291.72 634.4V639.4M291.72 955.8V951.8M323.04 35.2V39.2M323.04 634.4V630.4M323.04 634.4V637.4M323.04 955.8V953.3M354.36 35.2V43.2M354.36 634.4V627.4M354.36 634.4V639.4M354.36 955.8V951.8M385.68 35.2V39.2M385.68 634.4V630.4M385.68 634.4V637.4M385.68 955.8V953.3M417 35.2V51.2M417 634.4V619.4M417 634.4V644.4M417 955.8V946.8M448.32 35.2V39.2M448.32 634.4V630.4M448.32 634.4V637.4M448.32 955.8V953.3M479.64 35.2V43.2M479.64 634.4V627.4M479.64 634.4V639.4M479.64 955.8V951.8M510.96 35.2V39.2M510.96 634.4V630.4M510.96 634.4V637.4M510.96 955.8V953.3M542.28 35.2V43.2M542.28 634.4V627.4M542.28 634.4V639.4M542.28 955.8V951.8M573.6 35.2V39.2M573.6 634.4V630.4M573.6 634.4V637.4M573.6 955.8V953.3M604.92 35.2V43.2M604.92 634.4V627.4M604.92 634.4V639.4M604.92 955.8V951.8M636.24 35.2V39.2M636.24 634.4V630.4M636.24 634.4V637.4M636.24 955.8V953.3M667.56 35.2V43.2M667.56 634.4V627.4M667.56 634.4V639.4M667.56 955.8V951.8M698.88 35.2V39.2M698.88 634.4V630.4M698.88 634.4V637.4M698.88 955.8V953.3M730.2 35.2V51.2M730.2 634.4V619.4M730.2 634.4V644.4M730.2 955.8V946.8M91 916.51H106M742.3 916.51H727.3M91 884.68H101M742.3 884.68H732.3M91 857.77H101M742.3 857.77H732.3M91 834.46H101M742.3 834.46H732.3M91 813.89H101M742.3 813.89H732.3M91 795.5H106M742.3 795.5H727.3M91 778.86H101M742.3 778.86H732.3M91 763.67H101M742.3 763.67H732.3M91 749.69H101M742.3 749.69H732.3M91 736.76H101M742.3 736.76H732.3M91 724.71H106M742.3 724.71H727.3M91 713.44H101M742.3 713.44H732.3M91 702.86H101M742.3 702.86H732.3M91 692.88H101M742.3 692.88H732.3M91 683.44H101M742.3 683.44H732.3M91 674.49H106M742.3 674.49H727.3M91 665.97H101M742.3 665.97H732.3M91 657.85H101M742.3 657.85H732.3M91 650.09H101M742.3 650.09H732.3M91 642.66H101M742.3 642.66H732.3" stroke="#1a1a1a" stroke-width="1.8" fill="none"/>
<path d="M91.0 35.2H742.3V955.8H91.0Z" stroke="#000" stroke-width="2.1" fill="none"/>
<path d="M91.0 634.8H742.3" stroke="#000" stroke-width="2.3" fill="none"/>
<text x="102.89" y="28.5" font-size="24.2" fill="#000" >13000 GeV pp</text>
<text x="686.44" y="29" font-size="24.2" fill="#000">Jets</text>
<text x="75.29" y="87" font-size="24.25" fill="#000" >CMS, 13 TeV, AK4 jets, central dijet region, 326 &lt;p</text>
<text x="615.77" y="68.6" font-size="15.5" fill="#000" >{jet</text>
<text x="614.58" y="99.6" font-size="16" fill="#000" >T</text>
<text x="635.84" y="87" font-size="24.2" fill="#000" >}&lt; 408 GeV</text>
<text x="37.55" y="615.3" font-size="22" fill="#000">10</text>
<text x="61.67" y="605.7" font-size="14.5" fill="#000" >−2</text>
<text x="40.95" y="486" font-size="22" fill="#000">10</text>
<text x="64.38" y="475.9" font-size="14.5" fill="#000" >−1</text>
<text x="68.28" y="354" font-size="22" fill="#000">1</text>
<text x="54.55" y="224.9" font-size="22" fill="#000">10</text>
<text x="46.15" y="98.1" font-size="22" fill="#000">10</text>
<text x="70.08" y="88.3" font-size="14.5" fill="#000" >2</text>
<text x="63.98" y="682.9" font-size="24" fill="#000">2</text>
<text x="63.26" y="804.5" font-size="24" fill="#000">1</text>
<text x="43.6" y="925.3" font-size="24" fill="#000">0.5</text>
<text x="747.5" y="682.8" font-size="24" fill="#000" >2</text>
<text x="748" y="805" font-size="24" fill="#000" >1</text>
<text x="747.84" y="925.4" font-size="24" fill="#000" >0.5</text>
<text x="96.68" y="978.4" font-size="24" fill="#000">0</text>
<text x="400.94" y="978.6" font-size="24" fill="#000" >0.5</text>
<text x="724.28" y="977.8" font-size="24" fill="#000">1</text>
<text x="415.69" y="1007" font-size="25.3" fill="#000" >groomed width (charged-only)</text>
<text transform="rotate(-90)" x="-254.82" y="760" font-size="19" fill="#7a7a7a">Rivet 4.1.0, ≥ 100k events</text>
<text transform="rotate(-90)" x="-629.03" y="762" font-size="19" fill="#7a7a7a">mcplots.cern.ch [arXiv:1306.3436]</text>
<text transform="rotate(-90)" x="-846.55" y="36.4" font-size="18.1" fill="#000">Ratio to CMS</text>
<text x="333.04" y="604.2" font-size="16" fill="#a0a0a0" >(CMS_2021_I1920187)</text>
<rect x="147.7" y="462.4" width="11" height="10.2" fill="#000"/>
<text x="186.53" y="473.1" font-size="19.3" fill="#000" >CMS</text>
<line x1="129" y1="494" x2="177" y2="494" stroke="#9c0020" stroke-width="1.8"/>
<polygon points="153.3,487.2 147,499.8 159.6,499.8" fill="#fff" stroke="#9c0020" stroke-width="2"/>
<text x="186.56" y="499.9" font-size="19.2" fill="#000" >Pythia 6.428 370</text>
<line x1="128.5" y1="519.7" x2="175.2" y2="519.7" stroke="#0c66f2" stroke-width="1.8" stroke-dasharray="4.5 4"/>
<polygon points="153.2,515.1 154.32,517.86 157.29,518.07 155.01,519.99 155.73,522.88 153.2,521.3 150.67,522.88 151.39,519.99 149.11,518.07 152.08,517.86" fill="none" stroke="#0c66f2" stroke-width="1.9" stroke-linejoin="round"/>
<text x="186.56" y="525.7" font-size="19.2" fill="#000" >Pythia 6.428 378</text>
<line x1="128.5" y1="545.4" x2="175.2" y2="545.4" stroke="#76bd00" stroke-width="1.6" stroke-dasharray="4.5 4"/>
<polygon points="153.4,541.3 154.46,543.84 157.2,544.06 155.11,545.86 155.75,548.54 153.4,547.1 151.05,548.54 151.69,545.86 149.6,544.06 152.34,543.84" fill="none" stroke="#76bd00" stroke-width="1.8" stroke-linejoin="round"/>
<text x="186.56" y="550.9" font-size="19.2" fill="#000" >Pythia 6.428 379</text>
<path d="M21 141V252.5M21 34.8V127" stroke="#000" stroke-width="2"/>
<text transform="rotate(-90)" x="-267.02" y="27.8" font-size="24" fill="#000">#</text>
<text transform="rotate(-90)" x="-140.72" y="27.8" font-size="24" fill="#000">#</text>
<text transform="rotate(-90)" x="-201.7" y="17.8" font-size="24" fill="#000">1</text>
<text transform="rotate(-90)" x="-246.66" y="42.4" font-size="24" fill="#000">d</text>
<text transform="rotate(-90)" x="-226.42" y="42.4" font-size="24" fill="#000">N</text>
<text transform="rotate(-90)" x="-202" y="42.4" font-size="24" fill="#000">/</text>
<text transform="rotate(-90)" x="-182.36" y="42.4" font-size="24" fill="#000">d</text>
<text transform="rotate(-90)" x="-161.86" y="42.4" font-size="24" fill="#000">p</text>
<text transform="rotate(-90)" x="-151.8" y="55.8" font-size="15" fill="#000">T</text>
<text transform="rotate(-90)" x="-121.16" y="42.6" font-size="24" fill="#000">d</text>
<text transform="rotate(-90)" x="-101.26" y="42.6" font-size="24" fill="#000">p</text>
<text transform="rotate(-90)" x="-64.96" y="42.6" font-size="24" fill="#000">d</text>
<text transform="rotate(-90)" x="-48.24" y="42.6" font-size="24" fill="#000">λ</text>
<text transform="rotate(-90)" x="-88.6" y="56.6" font-size="15" fill="#000">T</text>
<text transform="rotate(-90)" x="-95.86" y="17.1" font-size="24" fill="#000">d</text>
<text transform="rotate(-90)" x="-84.42" y="6.1" font-size="14.5" fill="#000">2</text>
<text transform="rotate(-90)" x="-74.62" y="17.1" font-size="24" fill="#000">N</text>
</svg>
</body></html>
